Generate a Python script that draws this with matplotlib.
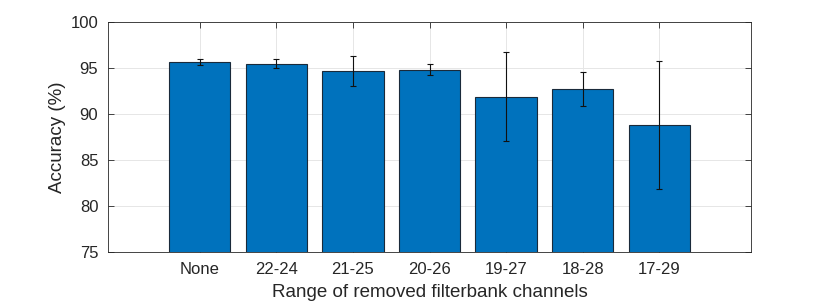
import numpy as np
import matplotlib.pyplot as plt

plt.rcParams['font.family'] = ['Liberation Sans', 'DejaVu Sans']

categories = ['None', '22-24', '21-25', '20-26', '19-27', '18-28', '17-29']
accuracy = [95.65, 95.45, 94.65, 94.8, 91.9, 92.75, 88.8]
err = [0.35, 0.5, 1.6, 0.6, 4.8, 1.85, 7.0]

x = np.arange(1, len(categories) + 1)

fig = plt.figure(figsize=(8.3, 3.05), dpi=100)
ax = fig.add_axes([108/830, 53/305, 643/830, 230/305])

ax.bar(x, accuracy, width=0.8, color='#0072BD', edgecolor='#1a2a3a', linewidth=0.8, zorder=2)
ax.errorbar(x, accuracy, yerr=err, fmt='none', ecolor='#111111', elinewidth=0.8,
            capsize=2.5, capthick=0.8, zorder=3)

ax.set_xlim(-0.2, 8.2)
ax.set_ylim(75, 100)
ax.set_xticks(x)
ax.set_xticklabels(categories)
ax.set_yticks([75, 80, 85, 90, 95, 100])

ax.grid(True, color='#e6e6e6', linewidth=0.7, zorder=0)
ax.set_axisbelow(True)
ax.tick_params(direction='in', top=True, right=True, length=4, width=0.6,
               colors='#262626', labelsize=12, pad=7)
for s in ax.spines.values():
    s.set_color('#262626')
    s.set_linewidth(0.6)
    s.set_zorder(5)

ax.set_xlabel('Range of removed filterbank channels', fontsize=13.5, color='#262626', labelpad=5)
ax.set_ylabel('Accuracy (%)', fontsize=13.5, color='#262626', labelpad=3)

fig.savefig('out.png', dpi=100)
